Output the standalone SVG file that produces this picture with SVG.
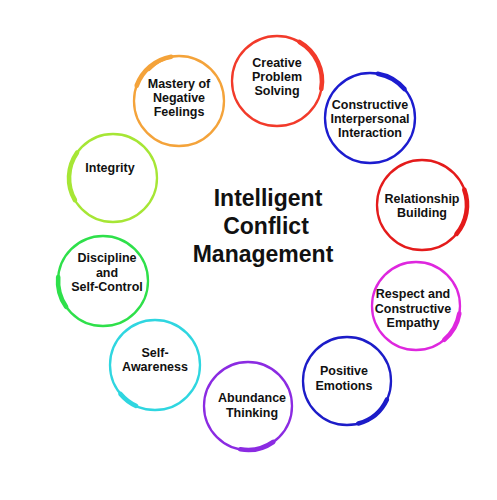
<svg xmlns="http://www.w3.org/2000/svg" width="497" height="500" viewBox="0 0 497 500">
<style>
.ring{fill:none;stroke-width:2.3}
.brush{fill:none;stroke-width:4.6;stroke-linecap:round}
.lbl{font-family:"Liberation Sans",Arial,sans-serif;font-weight:bold;font-size:12.5px;fill:#111;text-anchor:middle}
.title{font-family:"Liberation Sans",Arial,sans-serif;font-weight:bold;font-size:23px;fill:#111;text-anchor:middle}
</style>
<rect width="497" height="500" fill="#fff"/>
<g id="center">
<text class="title" x="268" y="206">Intelligent</text>
<text class="title" x="266" y="234">Conflict</text>
<text class="title" x="263" y="262">Management</text>
</g>
<g id="n-creative">
<circle class="ring" cx="277" cy="81" r="45" stroke="#f23a2a"/>
<path class="brush" stroke="#f23a2a" d="M299.5,42 A45,45 0 0 1 321.3,88.8"/>
<text class="lbl" x="277" y="67">Creative</text>
<text class="lbl" x="277" y="81">Problem</text>
<text class="lbl" x="277" y="95">Solving</text>
</g>
<g id="n-mastery">
<circle class="ring" cx="179" cy="101" r="45" stroke="#f4a33a"/>
<path class="brush" stroke="#f4a33a" d="M136.7,85.6 A45,45 0 0 1 171.2,56.7"/>
<path fill="none" stroke="#f4a33a" stroke-width="2.5" stroke-linecap="round" d="M171,57 Q158,60 149,70"/>
<text class="lbl" x="179" y="88">Mastery of</text>
<text class="lbl" x="179" y="102">Negative</text>
<text class="lbl" x="179" y="116">Feelings</text>
</g>
<g id="n-interpersonal">
<circle class="ring" cx="370" cy="118" r="45" stroke="#1c1ccf"/>
<path class="brush" stroke="#1c1ccf" d="M377.8,73.7 A45,45 0 0 1 404.5,89.1"/>
<text class="lbl" x="370" y="109">Constructive</text>
<text class="lbl" x="370" y="123">Interpersonal</text>
<text class="lbl" x="370" y="137">Interaction</text>
</g>
<g id="n-relationship">
<circle class="ring" cx="422" cy="205" r="45" stroke="#e41b1b"/>
<path class="brush" stroke="#e41b1b" d="M464.3,189.6 A45,45 0 0 1 456.5,233.9"/>
<text class="lbl" x="422" y="203">Relationship</text>
<text class="lbl" x="422" y="217">Building</text>
</g>
<g id="n-respect">
<circle class="ring" cx="416" cy="306" r="44" stroke="#de27de"/>
<path class="brush" stroke="#de27de" d="M459.3,313.6 A44,44 0 0 1 444.3,339.7"/>
<text class="lbl" x="413" y="298">Respect and</text>
<text class="lbl" x="413" y="313">Constructive</text>
<text class="lbl" x="413" y="327">Empathy</text>
</g>
<g id="n-positive">
<circle class="ring" cx="347" cy="381" r="44" stroke="#1c1cc8"/>
<path class="brush" stroke="#1c1cc8" d="M386.9,399.6 A44,44 0 0 1 358.4,423.5"/>
<text class="lbl" x="344" y="375">Positive</text>
<text class="lbl" x="344" y="390">Emotions</text>
</g>
<g id="n-abundance">
<circle class="ring" cx="248" cy="406" r="44" stroke="#8b2be2"/>
<path class="brush" stroke="#8b2be2" d="M273.2,442 A44,44 0 0 1 240.4,449.3"/>
<text class="lbl" x="252" y="402">Abundance</text>
<text class="lbl" x="252" y="417">Thinking</text>
</g>
<g id="n-selfawareness">
<circle class="ring" cx="155" cy="365" r="45" stroke="#2fd6e0"/>
<path class="brush" stroke="#2fd6e0" d="M136,405.8 A45,45 0 0 1 120.5,393.9"/>
<text class="lbl" x="155" y="357">Self-</text>
<text class="lbl" x="155" y="371">Awareness</text>
</g>
<g id="n-discipline">
<circle class="ring" cx="103" cy="281" r="45" stroke="#2ee04a"/>
<path class="brush" stroke="#2ee04a" d="M66.1,306.8 A45,45 0 0 1 58.2,277.1"/>
<text class="lbl" x="107" y="262">Discipline</text>
<text class="lbl" x="107" y="277">and</text>
<text class="lbl" x="107" y="291">Self-Control</text>
</g>
<g id="n-integrity">
<circle class="ring" cx="113" cy="178" r="44" stroke="#a6e635"/>
<path class="brush" stroke="#a6e635" d="M74.9,200 A44,44 0 0 1 77,152.7"/>
<text class="lbl" x="110" y="172">Integrity</text>
</g>
<g id="connectors"/>
</svg>
